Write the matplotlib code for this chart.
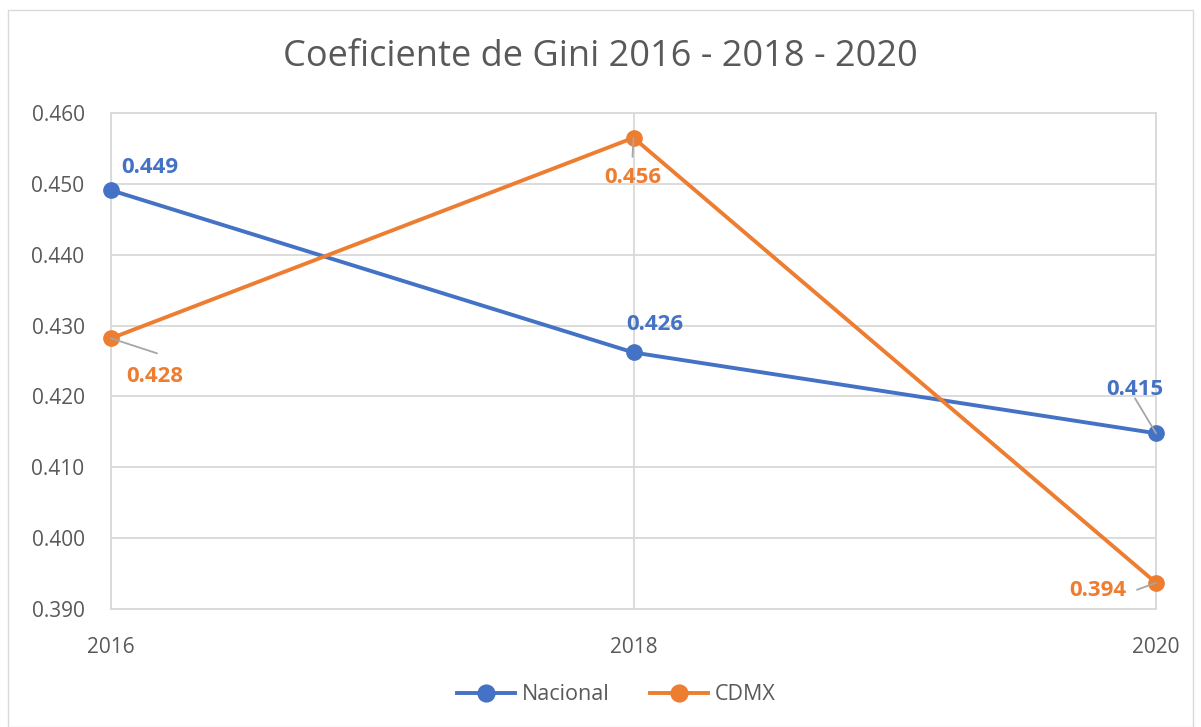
import matplotlib
matplotlib.use("Agg")
import matplotlib.pyplot as plt
from matplotlib.patches import Rectangle

years = [2016, 2018, 2020]
nacional = [0.4491, 0.4262, 0.4148]
cdmx = [0.4282, 0.4565, 0.3937]
nacional_labels = ["0.449", "0.426", "0.415"]
cdmx_labels = ["0.428", "0.456", "0.394"]
yticks = [0.390, 0.400, 0.410, 0.420, 0.430, 0.440, 0.450, 0.460]

BLUE = "#4472C4"
ORANGE = "#ED7D31"
GRID = "#D9D9D9"
TXT = "#595959"

plt.rcParams['font.family'] = ['Open Sans', 'DejaVu Sans']

W, H = 1201, 727
fig = plt.figure(figsize=(W / 100, H / 100), dpi=100)
fig.patches.append(Rectangle((8 / W, 0), (1193 - 8) / W, (H - 10) / H, transform=fig.transFigure,
                             fill=False, edgecolor=GRID, linewidth=1.0))

ax = fig.add_axes([111 / W, 1 - 609 / H, (1156 - 111) / W, (609 - 113) / H])
ax.set_xlim(2016, 2020)
ax.set_ylim(0.390, 0.460)
ax.set_yticks(yticks)
ax.set_yticklabels([f"{v:.3f}" for v in yticks])
ax.set_xticks(years)
ax.set_xticklabels([str(y) for y in years])
ax.grid(True, color=GRID, linewidth=1.3)
ax.set_axisbelow(True)
for s in ax.spines.values():
    s.set_color(GRID)
    s.set_linewidth(1.3)
ax.tick_params(axis='both', length=0, labelsize=15, colors=TXT)
ax.tick_params(axis='y', pad=19)
ax.tick_params(axis='x', pad=20)

ax.plot(years, nacional, color=BLUE, linewidth=2.8, marker='o', markersize=11, label='Nacional',
        clip_on=False, zorder=3)
ax.plot(years, cdmx, color=ORANGE, linewidth=2.8, marker='o', markersize=11, label='CDMX',
        clip_on=False, zorder=3)

lead = dict(arrowstyle='-', color='#A6A6A6', linewidth=1.3, shrinkA=0, shrinkB=0)
FS = 16

def lab(x, y, txt, color, dx, dy):
    ax.annotate(txt, xy=(x, y), xytext=(dx, dy), textcoords='offset pixels',
                ha='center', va='center', color=color, fontsize=FS, fontweight='bold', zorder=4)

def leader(x, y, dx, dy):
    ax.annotate('', xy=(x, y), xytext=(dx, dy), textcoords='offset pixels', arrowprops=lead)

# Nacional labels
lab(years[0], nacional[0], nacional_labels[0], BLUE, 39, 23)
lab(years[1], nacional[1], nacional_labels[1], BLUE, 21, 28)
lab(years[2], nacional[2], nacional_labels[2], BLUE, -21, 44)
leader(years[2], nacional[2], -21, 35)
# CDMX labels
lab(years[0], cdmx[0], cdmx_labels[0], ORANGE, 44, -38)
leader(years[0], cdmx[0], 46, -15)
lab(years[1], cdmx[1], cdmx_labels[1], ORANGE, -1, -40)
leader(years[1], cdmx[1], -1, -19)
lab(years[2], cdmx[2], cdmx_labels[2], ORANGE, -58, -8)
leader(years[2], cdmx[2], -19, -7)

fig.text(0.5, 1 - 57 / H, "Coeficiente de Gini 2016 - 2018 - 2020", ha='center', va='center',
         fontsize=26, color=TXT)

leg = fig.legend(loc='center', bbox_to_anchor=(0.513, 1 - 695 / H), ncol=2, frameon=False,
                 fontsize=15.5, handlelength=2.7, columnspacing=1.9, handletextpad=0.3,
                 markerscale=1.1)
for t in leg.get_texts():
    t.set_color(TXT)

fig.savefig("out.png", dpi=100)
